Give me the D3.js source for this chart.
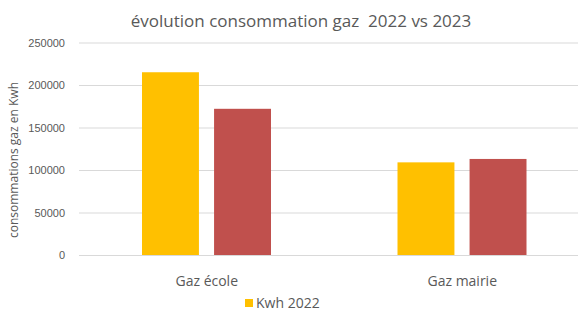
<!DOCTYPE html>
<html>
<head>
<meta charset="utf-8">
<script src="https://cdn.jsdelivr.net/npm/d3@7"></script>
<style>
  body { margin: 0; background: #fff; }
  svg { display: block; font-family: "Open Sans", "Noto Sans", sans-serif; }
</style>
</head>
<body>
<div id="chart"></div>
<script>
// data
var categories = ["Gaz école", "Gaz mairie"];
var seriesNames = ["Kwh 2022", "Kwh 2023"];
var kwh2022 = [215000, 109000];
var kwh2023 = [172000, 113000];
var yTicks = [0, 50000, 100000, 150000, 200000, 250000];

var colors = ["#FFC000", "#C0504D"];
var textColor = "#595959";

var W = 578, H = 312;
var plot = {left: 79, right: 590, top: 42.5, bottom: 255};

var svg = d3.select("#chart").append("svg")
    .attr("width", W)
    .attr("height", H);

var y = d3.scaleLinear()
    .domain([0, 250000])
    .range([plot.bottom, plot.top]);

var x0 = d3.scaleBand()
    .domain(categories)
    .range([plot.left, plot.right]);

// two bars inside each category band
var x1 = d3.scaleBand()
    .domain(seriesNames)
    .range([63, 192])
    .paddingInner(0.21);

// gridlines
var yAxis = d3.axisLeft(y)
    .tickValues(yTicks)
    .tickSize(-(plot.right - plot.left))
    .tickPadding(14)
    .tickFormat(d3.format("d"));

var gy = svg.append("g")
    .attr("transform", "translate(" + plot.left + ",0)")
    .call(yAxis);
gy.select(".domain").remove();
gy.selectAll(".tick line").attr("stroke", "#d9d9d9").attr("stroke-width", 1);
gy.selectAll(".tick text")
    .attr("fill", textColor)
    .style("font-size", "11px");

// bars
var rows = categories.map(function (c, i) {
    return {cat: c, values: [kwh2022[i], kwh2023[i]]};
});

var groups = svg.selectAll("g.cat").data(rows)
    .enter().append("g")
    .attr("class", "cat")
    .attr("transform", function (d) { return "translate(" + x0(d.cat) + ",0)"; });

groups.selectAll("rect")
    .data(function (d) {
        return d.values.map(function (v, j) { return {name: seriesNames[j], value: v, idx: j}; });
    })
    .enter().append("rect")
    .attr("x", function (d) { return x1(d.name); })
    .attr("width", x1.bandwidth())
    .attr("y", function (d) { return y(d.value); })
    .attr("height", function (d) { return plot.bottom - y(d.value); })
    .attr("fill", function (d) { return colors[d.idx]; });

// category labels
svg.selectAll("text.cat").data(categories)
    .enter().append("text")
    .attr("class", "cat")
    .attr("x", function (d) { return x0(d) + x0.bandwidth() / 2; })
    .attr("y", 286)
    .attr("text-anchor", "middle")
    .attr("fill", textColor)
    .style("font-size", "14px")
    .text(function (d) { return d; });

// title
svg.append("text")
    .attr("x", 301)
    .attr("y", 27)
    .attr("text-anchor", "middle")
    .attr("fill", textColor)
    .style("font-size", "17px")
    .style("white-space", "pre")
    .text("évolution consommation gaz  2022 vs 2023");

// y axis title
svg.append("text")
    .attr("transform", "translate(18,160) rotate(-90)")
    .attr("text-anchor", "middle")
    .attr("fill", textColor)
    .style("font-size", "12px")
    .text("consommations gaz en Kwh");

// legend (only the first entry fits in the picture)
var legend = svg.append("g").attr("transform", "translate(245,298)");
legend.append("rect")
    .attr("y", 1)
    .attr("width", 8)
    .attr("height", 8)
    .attr("fill", colors[0]);
legend.append("text")
    .attr("x", 11)
    .attr("y", 9.5)
    .attr("fill", textColor)
    .style("font-size", "14px")
    .text(seriesNames[0]);
</script>
</body>
</html>
